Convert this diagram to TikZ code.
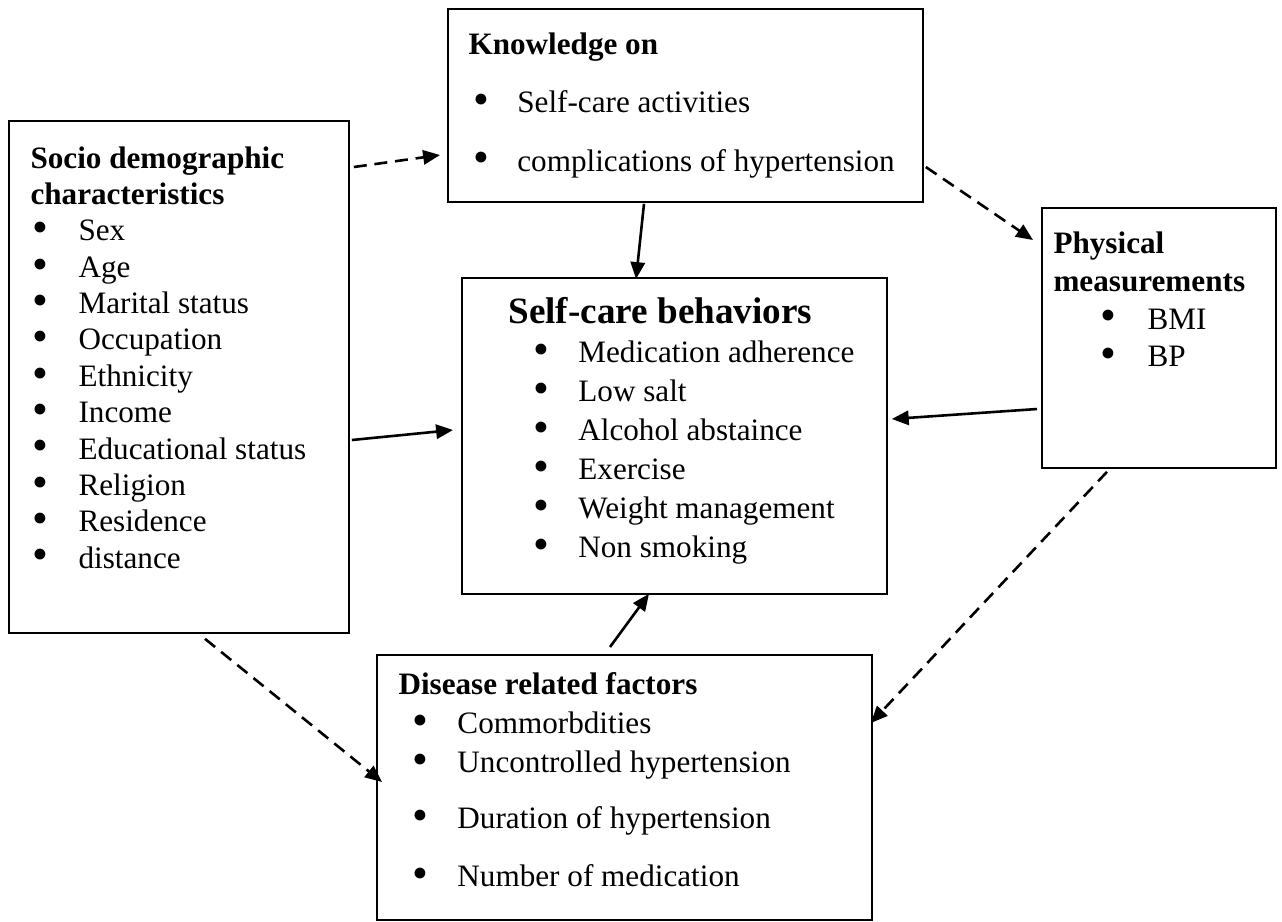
\documentclass[tikz,border=0pt]{standalone}
\usepackage{fontspec}
\setmainfont{Liberation Serif}
\usetikzlibrary{positioning,calc,arrows.meta}
\newcommand{\dotmark}{\smash{\raisebox{-0.7pt}{\scalebox{1.45}{\textbullet}}}}
\newcommand{\bul}[3]{\hspace*{#1}\makebox[#2][l]{\dotmark}#3}

\begin{document}
\begin{tikzpicture}[
        x=0.385pt, y=-0.385pt,
        box/.style={
            rectangle,
            draw=black,
            line width=0.7pt,
            anchor=north west,
            inner sep=0pt
        },
        txt/.style={
            anchor=north west,
            align=left,
            inner sep=0pt,
            font=\fontsize{12}{14}\selectfont
        },
        link/.style={line width=1pt,-{Triangle[length=6.5pt,width=5.5pt]}},
        dlink/.style={link,dash pattern=on 5pt off 3pt}
    ]
    \useasboundingbox (0,0) rectangle (1282,921);

    % boxes
    \node[box, minimum width=130.9pt, minimum height=197.12pt] (socio) at (8,120) {};
    \node[box, minimum width=182.875pt, minimum height=74.305pt] (know) at (447,8) {};
    \node[box, minimum width=163.625pt, minimum height=121.66pt] (care) at (461,277) {};
    \node[box, minimum width=90.09pt, minimum height=100.1pt] (phys) at (1041,207) {};
    \node[box, minimum width=190.575pt, minimum height=102.025pt] (dis) at (376,654) {};

    % texts
    \node[txt] (socio-text) at ($(socio.north west)+(22,26)$)
        {\textbf{Socio demographic}\\
         \textbf{characteristics}\\
         \bul{0.8pt}{17.7pt}{Sex}\\
         \bul{0.8pt}{17.7pt}{Age}\\
         \bul{0.8pt}{17.7pt}{Marital status}\\
         \bul{0.8pt}{17.7pt}{Occupation}\\
         \bul{0.8pt}{17.7pt}{Ethnicity}\\
         \bul{0.8pt}{17.7pt}{Income}\\
         \bul{0.8pt}{17.7pt}{Educational status}\\
         \bul{0.8pt}{17.7pt}{Religion}\\
         \bul{0.8pt}{17.7pt}{Residence}\\
         \bul{0.8pt}{17.7pt}{distance}};

    \node[txt, font=\fontsize{12}{22.5}\selectfont] (know-text) at ($(know.north west)+(21,24)$)
        {\textbf{Knowledge on}\\
         \bul{1.9pt}{16.9pt}{Self-care activities}\\
         \bul{1.9pt}{16.9pt}{complications of hypertension}};

    \node[txt, font=\fontsize{12}{15}\selectfont] (care-text) at ($(care.north west)+(47,20)$)
        {{\fontsize{14.3}{15}\selectfont\bfseries Self-care behaviors}\\
         \bul{9.6pt}{17.3pt}{Medication adherence}\\
         \bul{9.6pt}{17.3pt}{Low salt}\\
         \bul{9.6pt}{17.3pt}{Alcohol abstaince}\\
         \bul{9.6pt}{17.3pt}{Exercise}\\
         \bul{9.6pt}{17.3pt}{Weight management}\\
         \bul{9.6pt}{17.3pt}{Non smoking}};

    \node[txt, font=\fontsize{12}{14.6}\selectfont] (phys-text) at ($(phys.north west)+(12,24)$)
        {\textbf{Physical}\\
         \textbf{measurements}\\
         \bul{18.1pt}{18.1pt}{BMI}\\
         \bul{18.1pt}{18.1pt}{BP}};

    \node[txt, font=\fontsize{12}{15}\selectfont] (dis-text) at ($(dis.north west)+(22,18)$)
        {\textbf{Disease related factors}\\
         \bul{5.4pt}{17.3pt}{Commorbdities}\\
         \bul{5.4pt}{17.3pt}{Uncontrolled hypertension}\\[6.6pt]
         \bul{5.4pt}{17.3pt}{Duration of hypertension}\\[7.3pt]
         \bul{5.4pt}{17.3pt}{Number of medication}};

    % connectors
    \draw[dlink] ($(socio.north east)+(4,47)$) -- ($(know.north west)+(-7,147)$);
    \draw[dlink] ($(know.north east)+(2,159)$) -- ($(phys.north west)+(-8,33)$);
    \draw[link] ($(know.south west)+(197,1)$) -- ($(care.north west)+(175,2)$);
    \draw[link] ($(socio.north east)+(2,320)$) -- ($(care.north west)+(-8,153)$);
    \draw[link] ($(phys.north west)+(-4,202)$) -- ($(care.north east)+(4,142)$);
    \draw[link] ($(dis.north west)+(234,-7)$) -- ($(care.south west)+(188,-1)$);
    \draw[dlink] ($(socio.south west)+(197,5)$) -- ($(dis.north west)+(6,128)$);
    \draw[dlink] ($(phys.south west)+(66,3)$) -- ($(dis.north east)+(-2,69)$);

\end{tikzpicture}
\end{document}
